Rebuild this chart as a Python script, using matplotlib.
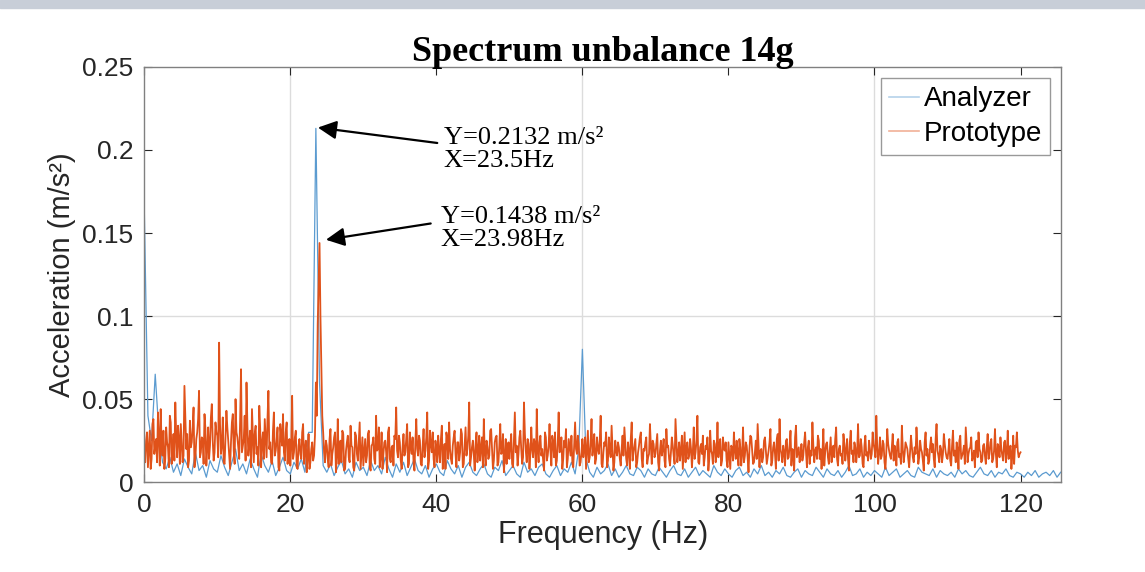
"""
Spectrum unbalance 14g - analyzer vs prototype
"""
import numpy as np
import matplotlib
matplotlib.use('Agg')
import matplotlib.pyplot as plt
from matplotlib.patches import Rectangle

# amplitudes in 1e-3 m/s^2, prototype bins at 0, 0.25, 0.5 ... 120 Hz
prototype_mg = [
    18, 25, 9, 31, 14, 38, 22, 12, 27, 44, 16, 8, 33, 21, 40, 11, 29, 48, 15, 26,
    35, 12, 58, 20, 9, 37, 24, 45, 14, 30, 55, 18, 26, 41, 10, 33, 22, 47, 13, 36,
    28, 84, 17, 39, 11, 43, 25, 8, 36, 19, 50, 27, 14, 68, 22, 40, 60, 16, 31, 44,
    12, 34, 21, 46, 9, 30, 38, 15, 55, 24, 11, 42, 19, 33, 7, 28, 41, 13, 36, 20,
    10, 52, 18, 31, 8, 26, 14, 35, 20, 6, 29, 12, 24, 16, 60, 95, 144, 70, 30, 12,
    22, 9, 32, 17, 27, 6, 38, 19, 12, 29, 8, 24, 15, 34, 21, 7, 28, 13, 36, 18,
    10, 26, 16, 31, 7, 23, 14, 40, 20, 9, 30, 17, 25, 6, 33, 12, 22, 28, 45, 15,
    24, 8, 29, 18, 35, 11, 21, 27, 7, 38, 16, 25, 10, 32, 19, 42, 13, 23, 30, 9,
    20, 28, 12, 34, 17, 8, 26, 36, 14, 22, 31, 9, 24, 18, 29, 11, 33, 20, 48, 15,
    25, 7, 30, 19, 13, 27, 38, 10, 21, 16, 32, 8, 24, 28, 12, 35, 18, 6, 26, 20,
    14, 29, 9, 42, 22, 17, 31, 11, 48, 19, 26, 8, 33, 15, 23, 44, 12, 28, 20, 7,
    27, 16, 35, 10, 24, 30, 13, 42, 19, 8, 25, 32, 14, 21, 28, 9, 36, 17, 23, 12,
    26, 20, 8, 31, 15, 38, 22, 11, 27, 17, 40, 9, 24, 30, 13, 19, 34, 7, 25, 16,
    21, 10, 28, 33, 14, 24, 8, 36, 18, 26, 12, 22, 30, 9, 19, 27, 15, 35, 11, 23,
    17, 29, 7, 25, 20, 13, 32, 22, 10, 27, 16, 38, 12, 24, 19, 8, 30, 21, 14, 26,
    9, 33, 18, 40, 11, 23, 28, 15, 20, 7, 31, 17, 25, 12, 36, 22, 10, 27, 19, 13,
    24, 8, 21, 30, 14, 18, 26, 10, 33, 16, 22, 6, 28, 19, 12, 25, 35, 9, 20, 15,
    27, 11, 19, 32, 13, 24, 8, 29, 38, 17, 22, 10, 26, 15, 31, 20, 7, 34, 18, 12,
    23, 16, 30, 9, 25, 19, 36, 12, 21, 28, 14, 8, 32, 18, 24, 11, 27, 20, 15, 33,
    10, 22, 17, 29, 13, 26, 7, 31, 19, 24, 12, 35, 16, 21, 9, 28, 18, 25, 14, 30,
    20, 40, 11, 27, 16, 23, 8, 32, 19, 14, 29, 22, 10, 26, 17, 34, 12, 24, 20, 9,
    28, 15, 21, 33, 11, 25, 18, 7, 30, 20, 13, 27, 23, 9, 35, 16, 22, 12, 29, 18,
    14, 26, 10, 31, 19, 24, 8, 28, 16, 22, 33, 12, 20, 27, 15, 9, 25, 30, 18, 13,
    23, 11, 29, 17, 26, 14, 32, 9, 21, 27, 16, 24, 12, 31, 19, 8, 28, 22, 30, 15,
    18,
]

# prototype bins in between: 0.125, 0.375 ... 119.875 Hz
prototype_mid_mg = [
    12, 30, 20, 8, 35, 17, 26, 42, 10, 22, 31, 14, 24, 9, 36, 19, 13, 28, 34, 11,
    24, 16, 40, 29, 13, 21, 33, 9, 26, 38, 15, 27, 11, 32, 20, 14, 39, 25, 18, 30,
    15, 35, 22, 12, 28, 33, 16, 24, 41, 11, 30, 21, 37, 18, 26, 13, 34, 23, 9, 27,
    29, 17, 10, 32, 24, 14, 27, 38, 20, 12, 31, 16, 25, 9, 35, 22, 18, 30, 11, 26,
    21, 14, 27, 9, 22, 17, 30, 11, 25, 15, 8, 20, 13, 28, 40, 120, 100, 40, 18, 25,
    14, 26, 10, 21, 30, 16, 11, 25, 31, 7, 19, 28, 12, 22, 9, 30, 17, 24, 8, 27,
    18, 12, 29, 9, 22, 27, 11, 19, 33, 15, 8, 24, 18, 30, 14, 21, 10, 26, 19, 28,
    13, 21, 16, 26, 9, 30, 17, 12, 24, 20, 28, 11, 22, 15, 27, 8, 31, 18, 14, 25,
    12, 19, 26, 8, 23, 30, 14, 20, 11, 27, 17, 24, 13, 32, 9, 22, 16, 28, 10, 21,
    17, 23, 12, 28, 21, 9, 18, 25, 14, 31, 20, 13, 27, 10, 22, 17, 29, 15, 11, 24,
    22, 11, 25, 18, 10, 27, 20, 15, 29, 12, 23, 17, 20, 26, 9, 19, 24, 16, 13, 30,
    13, 22, 19, 28, 15, 10, 24, 18, 27, 14, 21, 9, 26, 16, 12, 23, 20, 28, 10, 18,
    15, 27, 19, 12, 24, 16, 29, 14, 20, 25, 11, 18, 22, 9, 27, 15, 21, 12, 19, 24,
    14, 20, 16, 23, 10, 19, 26, 13, 22, 9, 18, 27, 14, 20, 24, 11, 17, 22, 25, 15,
    23, 12, 19, 16, 26, 9, 21, 14, 18, 22, 11, 25, 17, 13, 28, 19, 12, 24, 16, 20,
    18, 14, 25, 12, 21, 17, 10, 22, 27, 14, 19, 11, 23, 18, 15, 26, 13, 20, 24, 9,
    16, 22, 13, 19, 25, 10, 21, 17, 12, 24, 15, 20, 27, 11, 18, 14, 22, 19, 12, 25,
    19, 15, 24, 10, 21, 17, 26, 13, 20, 12, 18, 25, 14, 22, 10, 19, 27, 15, 21, 16,
    13, 24, 18, 21, 11, 16, 22, 19, 14, 25, 20, 17, 10, 23, 15, 19, 12, 22, 26, 14,
    20, 16, 11, 23, 19, 14, 24, 17, 12, 21, 18, 15, 26, 11, 22, 16, 13, 20, 17, 23,
    15, 21, 18, 14, 25, 12, 19, 23, 16, 21, 13, 18, 24, 15, 11, 20, 17, 22, 14, 19,
    21, 12, 17, 23, 15, 20, 13, 24, 16, 11, 22, 18, 14, 26, 19, 12, 20, 17, 23, 15,
    19, 13, 22, 16, 12, 20, 25, 14, 18, 11, 23, 17, 21, 13, 19, 24, 15, 20, 12, 22,
    16, 21, 14, 24, 12, 19, 17, 23, 15, 20, 13, 25, 18, 14, 22, 16, 11, 21, 19, 17,
]

# analyzer every 0.5 Hz (0..125.5 Hz)
analyzer_mg = [
    165, 40, 25, 65, 30, 12, 8, 15, 6, 11, 4, 14, 9, 5, 18, 7, 10, 3, 13, 8,
    6, 16, 9, 4, 12, 20, 7, 11, 5, 14, 8, 3, 17, 10, 6, 13, 4, 9, 15, 7,
    5, 12, 8, 14, 6, 30, 30, 213, 60, 10, 6, 11, 4, 9, 13, 5, 8, 3, 12, 7,
    9, 4, 13, 7, 10, 5, 15, 8, 3, 11, 6, 12, 4, 9, 14, 7, 5, 10, 3, 8,
    11, 6, 4, 13, 8, 5, 10, 3, 9, 12, 6, 4, 8, 11, 5, 3, 9, 7, 13, 4,
    7, 10, 5, 3, 12, 6, 8, 4, 9, 11, 5, 3, 7, 10, 4, 8, 6, 12, 5, 20,
    80, 14, 6, 3, 9, 5, 7, 11, 4, 8, 3, 6, 10, 5, 4, 9, 7, 3, 8, 5,
    4, 9, 6, 3, 7, 10, 5, 4, 8, 3, 6, 9, 4, 7, 5, 3, 10, 6, 4, 8,
    5, 3, 7, 9, 4, 6, 3, 8, 5, 10, 4, 6, 3, 7, 5, 9, 4, 3, 6, 8,
    3, 7, 5, 4, 9, 6, 3, 8, 5, 4, 7, 3, 6, 10, 4, 5, 8, 3, 6, 4,
    7, 5, 3, 9, 4, 6, 8, 3, 5, 7, 4, 3, 9, 6, 5, 4, 8, 3, 7, 5,
    4, 6, 3, 8, 5, 7, 4, 3, 6, 9, 5, 4, 7, 3, 6, 5, 8, 4, 3, 6,
    5, 3, 6, 4, 7, 3, 5, 6, 4, 7, 3, 6,
]

x_ticks = [0, 20, 40, 60, 80, 100, 120]
y_ticks = [0, 0.05, 0.1, 0.15, 0.2, 0.25]
y_tick_labels = ['0', '0.05', '0.1', '0.15', '0.2', '0.25']

# merge the two prototype bin sets into one 0.125 Hz spectrum
a_proto = np.empty(len(prototype_mg) + len(prototype_mid_mg))
a_proto[0::2] = prototype_mg
a_proto[1::2] = prototype_mid_mg
a_proto = a_proto / 1000
f_proto = np.arange(len(a_proto)) * 0.125
f_anal = np.arange(len(analyzer_mg)) * 0.5
a_anal = np.array(analyzer_mg) / 1000

plt.rcParams['font.family'] = ['Liberation Sans', 'DejaVu Sans']

fig = plt.figure(figsize=(11.45, 5.72), dpi=100)
fig.patches.append(Rectangle((0, 0.986), 1, 0.014, transform=fig.transFigure,
                             color='#c8ced8', zorder=0))
ax = fig.add_axes([0.126, 0.157, 0.801, 0.726])

# sparse grid, as in the picture
for gx in [20, 60, 100]:
    ax.axvline(gx, color='#dcdcdc', lw=1, zorder=0)
ax.axhline(0.1, color='#dcdcdc', lw=1, zorder=0)

ax.plot(f_anal, a_anal, color='#5b9bd0', lw=0.9, label='Analyzer')
ax.plot(f_proto, a_proto, color='#e0521a', lw=1.3, label='Prototype')

ax.set_xlim(0, 125.6)
ax.set_ylim(0, 0.25)
ax.set_xticks(x_ticks)
ax.set_yticks(y_ticks)
ax.set_yticklabels(y_tick_labels)
ax.tick_params(direction='in', top=True, right=True, labelsize=19,
               colors='#262626', length=6, width=0.8)
ax.tick_params(axis='x', pad=8)
ax.tick_params(axis='y', pad=8)
for s in ax.spines.values():
    s.set_color('#808080')
    s.set_linewidth(1)

ax.set_xlabel('Frequency (Hz)', fontsize=22, color='#262626', labelpad=2)
ax.set_ylabel('Acceleration (m/s²)', fontsize=21, color='#262626', labelpad=4)
ax.set_title('Spectrum unbalance 14g', fontsize=26, fontweight='bold',
             family=['Liberation Serif', 'DejaVu Serif'], pad=4)

leg = ax.legend(loc='upper right', fontsize=20, frameon=True, fancybox=False,
                handlelength=1.1, handletextpad=0.15, borderpad=0.3,
                labelspacing=0.3, borderaxespad=0.4)
leg.get_frame().set_edgecolor('#808080')
leg.get_frame().set_linewidth(1)
for h in leg.get_lines():
    h.set_alpha(0.45)
    h.set_linewidth(1.2)

arrow = dict(arrowstyle='-|>', color='black', lw=1.6, mutation_scale=28)
ax.annotate('', xy=(23.4, 0.2137), xytext=(40.5, 0.204), arrowprops=arrow)
ax.annotate('', xy=(24.5, 0.1457), xytext=(39.6, 0.156), arrowprops=arrow)
serif = ['Liberation Serif', 'DejaVu Serif']
ax.text(41.0, 0.2005, 'Y=0.2132 m/s²\nX=23.5Hz', fontsize=19, family=serif,
        va='center', ha='left', linespacing=1.05)
ax.text(40.6, 0.1525, 'Y=0.1438 m/s²\nX=23.98Hz', fontsize=19, family=serif,
        va='center', ha='left', linespacing=1.05)

fig.savefig('out.png', dpi=100)
